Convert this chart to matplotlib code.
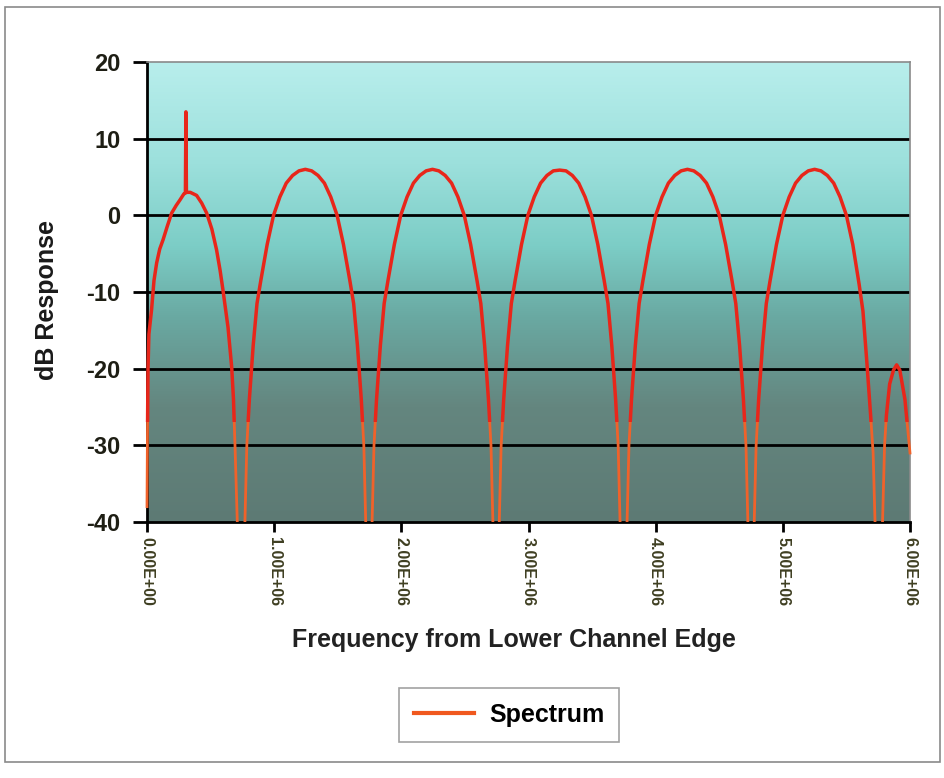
import numpy as np
import matplotlib.pyplot as plt
from matplotlib.colors import LinearSegmentedColormap
from matplotlib.patches import Rectangle
from matplotlib.ticker import FuncFormatter

# frequency in MHz and response in dB
freq_mhz = [
    0.000, 0.003, 0.008, 0.015, 0.036, 0.055, 0.076, 0.100, 0.126, 0.160,
    0.194, 0.230, 0.259, 0.290, 0.302, 0.306, 0.310, 0.340, 0.390, 0.430,
    0.469, 0.510, 0.547, 0.575, 0.597, 0.637, 0.666, 0.680, 0.692, 0.710,
    0.725, 0.742,
    0.755, 0.770, 0.785, 0.805, 0.835, 0.865, 0.895, 0.945, 0.995, 1.045,
    1.095, 1.145, 1.195, 1.245, 1.295, 1.345, 1.395, 1.445, 1.495, 1.545,
    1.595, 1.625, 1.655, 1.685, 1.705, 1.720, 1.735, 1.745,
    1.755, 1.770, 1.785, 1.805, 1.835, 1.865, 1.895, 1.945, 1.995, 2.045,
    2.095, 2.145, 2.195, 2.245, 2.295, 2.345, 2.395, 2.445, 2.495, 2.545,
    2.595, 2.625, 2.655, 2.685, 2.705, 2.720, 2.735, 2.745,
    2.755, 2.770, 2.785, 2.805, 2.835, 2.865, 2.895, 2.945, 2.995, 3.045,
    3.095, 3.145, 3.195, 3.245, 3.295, 3.345, 3.395, 3.445, 3.495, 3.545,
    3.595, 3.625, 3.655, 3.685, 3.705, 3.720, 3.735, 3.748,
    3.760, 3.775, 3.790, 3.810, 3.840, 3.870, 3.900, 3.950, 4.000, 4.050,
    4.100, 4.150, 4.200, 4.250, 4.300, 4.350, 4.400, 4.450, 4.500, 4.550,
    4.600, 4.630, 4.660, 4.690, 4.710, 4.725, 4.740, 4.750,
    4.760, 4.775, 4.790, 4.810, 4.840, 4.870, 4.900, 4.950, 5.000, 5.050,
    5.100, 5.150, 5.200, 5.250, 5.300, 5.350, 5.400, 5.450, 5.500, 5.550,
    5.600, 5.630, 5.660, 5.690, 5.710, 5.725, 5.740, 5.752,
    5.765, 5.785, 5.800, 5.815, 5.840, 5.870, 5.895, 5.920, 5.960, 5.985,
    6.000,
]
resp_db = [
    -38.0, -30.0, -20.0, -15.5, -12.3, -8.5, -6.2, -4.4, -3.2, -1.4,
    0.3, 1.3, 2.0, 2.8, 2.9, 13.5, 3.0, 3.0, 2.6, 1.6,
    0.3, -1.8, -4.5, -7.2, -9.7, -14.6, -19.8, -24.0, -30.0, -40.0,
    -55.0, -60.0,
    -55.0, -40.0, -30.0, -24.0, -17.0, -11.5, -8.5, -3.8, 0.0, 2.4,
    4.2, 5.2, 5.8, 6.0, 5.8, 5.2, 4.2, 2.4, 0.0, -3.8,
    -8.5, -11.5, -17.0, -24.0, -30.0, -40.0, -55.0, -60.0,
    -55.0, -40.0, -30.0, -24.0, -17.0, -11.5, -8.5, -3.8, 0.0, 2.4,
    4.2, 5.2, 5.8, 6.0, 5.8, 5.2, 4.2, 2.4, 0.0, -3.8,
    -8.5, -11.5, -17.0, -24.0, -30.0, -40.0, -55.0, -60.0,
    -55.0, -40.0, -30.0, -24.0, -17.0, -11.5, -8.5, -3.8, 0.0, 2.4,
    4.2, 5.2, 5.8, 5.9, 5.8, 5.2, 4.2, 2.4, 0.0, -3.8,
    -8.5, -11.5, -17.0, -24.0, -30.0, -40.0, -55.0, -60.0,
    -55.0, -40.0, -30.0, -24.0, -17.0, -11.5, -8.5, -3.8, 0.0, 2.4,
    4.2, 5.2, 5.8, 6.0, 5.8, 5.2, 4.2, 2.4, 0.0, -3.8,
    -8.5, -11.5, -17.0, -24.0, -30.0, -40.0, -55.0, -60.0,
    -55.0, -40.0, -30.0, -24.0, -17.0, -11.5, -8.5, -3.8, 0.0, 2.4,
    4.2, 5.2, 5.8, 6.0, 5.8, 5.2, 4.2, 2.4, 0.0, -3.8,
    -9.0, -12.5, -19.0, -26.0, -31.0, -40.0, -55.0, -60.0,
    -52.0, -40.0, -30.0, -26.0, -22.0, -20.2, -19.5, -20.2, -24.0, -28.4,
    -31.0,
]
y_ticks = [-40, -30, -20, -10, 0, 10, 20]
x_ticks_mhz = [0, 1, 2, 3, 4, 5, 6]

plt.rcParams['font.family'] = ['Liberation Sans', 'DejaVu Sans']
plt.rcParams['axes.unicode_minus'] = False
fig = plt.figure(figsize=(9.45, 7.78), dpi=100)
fig.patch.set_facecolor('white')
fig.patches.append(Rectangle((5 / 945, 1 - 762 / 778), 935 / 945, 755 / 778,
                             transform=fig.transFigure, fill=False,
                             edgecolor='#8a8a8a', lw=1.2))

ax = fig.add_axes([147 / 945, 1 - 522 / 778, 763 / 945, 460 / 778])

# gradient background
bg = LinearSegmentedColormap.from_list('bg', [
    (0.0, '#5d7a74'), (0.25, '#64867f'), (0.45, '#6aaaa3'),
    (0.6, '#7ccdc6'), (0.78, '#9ce0dc'), (1.0, '#b8eeec')])
grad = np.linspace(0, 1, 256).reshape(-1, 1)
ax.imshow(grad, cmap=bg, origin='lower', aspect='auto',
          extent=[0, 1, 0, 1], transform=ax.transAxes, zorder=0)

for yv in y_ticks[1:-1]:
    ax.axhline(yv, color='black', lw=2.0, zorder=1)

x_hz = np.array(freq_mhz) * 1e6
# red in the upper part, thinner orange towards the bottom like the print
lower, = ax.plot(x_hz, resp_db, color='#f0622a', lw=2.0, zorder=3)
upper, = ax.plot(x_hz, resp_db, color='#e8261a', lw=2.5, zorder=4,
                 label='Spectrum')
upper.set_clip_path(Rectangle((-1e6, -27), 8e6, 60, transform=ax.transData))
lower.set_clip_path(Rectangle((-1e6, -40), 8e6, 14, transform=ax.transData))

ax.set_xlim(0, 6e6)
ax.set_ylim(-40, 20)
ax.set_yticks(y_ticks)
ax.set_xticks([v * 1e6 for v in x_ticks_mhz])
ax.xaxis.set_major_formatter(FuncFormatter(lambda v, p: '%.2E' % v))

for s in ['left', 'bottom']:
    ax.spines[s].set_color('black')
    ax.spines[s].set_linewidth(2.0)
for s in ['top', 'right']:
    ax.spines[s].set_color('#8a8a8a')
    ax.spines[s].set_linewidth(1.2)

ax.tick_params(axis='y', direction='out', length=10, width=2, pad=9,
               labelsize=17, labelcolor='#1e1e14')
ax.tick_params(axis='x', direction='out', length=7, width=2, pad=4,
               labelsize=11.5, labelcolor='#3f3f22', labelrotation=-90)
for t in ax.get_yticklabels():
    t.set_fontweight('bold')
for t in ax.get_xticklabels():
    t.set_fontweight('bold')

fig.text(47 / 945, 1 - 300 / 778, 'dB Response', rotation=90,
         ha='center', va='center', fontsize=18, fontweight='bold',
         color='#1a1a1a')
fig.text(514 / 945, 1 - 640 / 778, 'Frequency from Lower Channel Edge',
         ha='center', va='center', fontsize=18, fontweight='bold',
         color='#222222')

leg = fig.legend(handles=[upper], loc='center',
                 bbox_to_anchor=(509 / 945, 1 - 715 / 778),
                 frameon=True, fancybox=False, edgecolor='#8a8a8a',
                 handlelength=2.4, handletextpad=0.6, borderpad=0.6,
                 prop={'size': 18, 'weight': 'bold'})
leg.get_frame().set_linewidth(1.2)
leg.get_lines()[0].set_color('#f0581e')
leg.get_lines()[0].set_linewidth(3)

fig.savefig('out.png', dpi=100, facecolor='white')
